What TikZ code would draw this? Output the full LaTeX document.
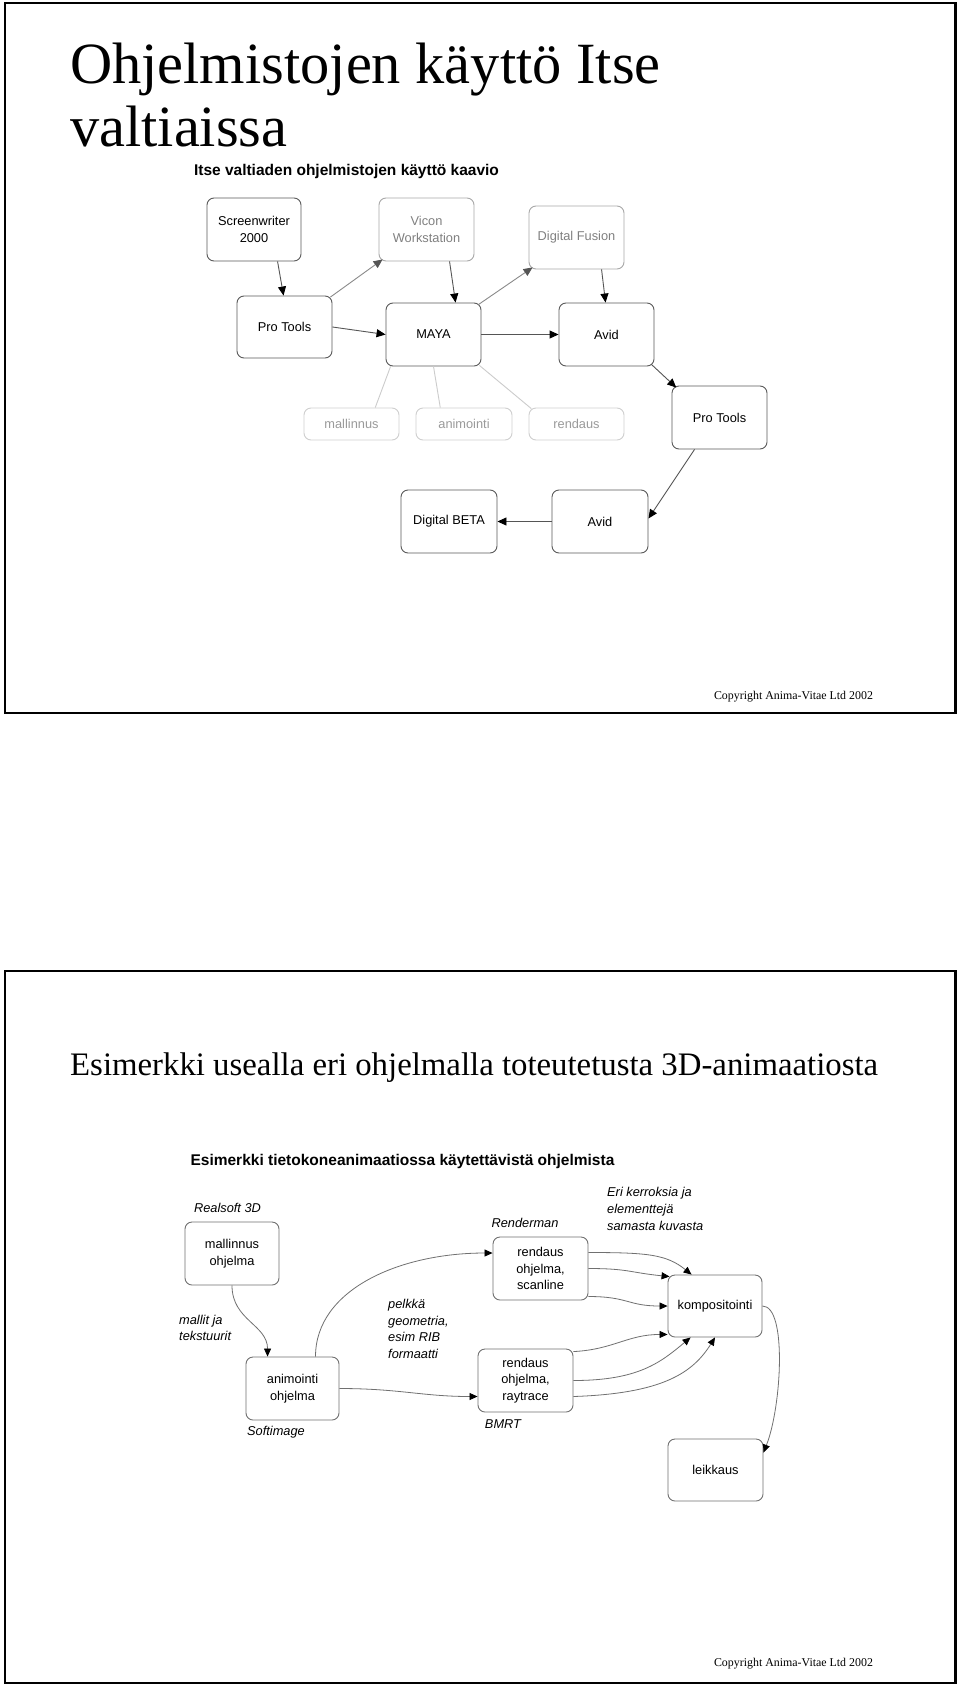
\documentclass[tikz,border=0pt]{standalone}
\usepackage{fontspec}
\setmainfont{Liberation Serif}
\newfontfamily\arial{Liberation Sans}
\usetikzlibrary{arrows.meta,calc}
\definecolor{boxdark}{HTML}{5A5A5A}
\definecolor{boxmid}{HTML}{A8A8A8}
\definecolor{boxlight}{HTML}{CFCFCF}
\definecolor{txtmid}{HTML}{808080}
\definecolor{txtlight}{HTML}{9A9A9A}
\definecolor{linedark}{HTML}{555555}
\definecolor{linemid}{HTML}{8A8A8A}
\definecolor{linelight}{HTML}{CCCCCC}
\definecolor{linetwo}{HTML}{707070}
\newcommand{\mynodefont}{\arial\fontsize{12.8}{16.7}\selectfont}
\newcommand{\mylabfont}{\arial\itshape\fontsize{12.8}{16.7}\selectfont}
\newcommand{\mybold}{\arial\bfseries\fontsize{15.5}{18}\selectfont}
\newcommand{\mycopy}{\fontsize{11.9}{14}\selectfont}
\tikzset{
  box/.style={draw=boxdark, rounded corners=7pt, minimum width=95pt, minimum height=63pt,
    inner sep=0pt, align=center, font=\mynodefont, text=black, line width=0.9pt},
  gbox/.style={box, draw=boxmid, text=txtmid},
  lbox/.style={box, draw=boxlight, text=txtlight, minimum height=32pt},
  arr/.style={draw=linedark, line width=0.9pt, -{Triangle[length=9pt,width=8pt,color=black]}},
  garr/.style={draw=linemid, line width=0.9pt, -{Triangle[length=9pt,width=8pt,color=linedark]}},
  lline/.style={draw=linelight, line width=0.9pt},
  carr/.style={draw=linetwo, line width=0.8pt, -{Triangle[length=8pt,width=7pt,color=black]}},
  lab/.style={font=\mylabfont, text=black, align=left, inner sep=0pt},
  frame/.style={draw=black, line width=2.5pt},
}
\begin{document}
\begin{tikzpicture}[x=1pt,y=-1pt]
\useasboundingbox (0,0) rectangle (960,1686);
\fill[white] (0,0) rectangle (960,1686);

% ---------- frame 1 ----------
\draw[frame] (5,3) rectangle (955.5,713);
\node[anchor=base west, inner sep=0pt, font=\fontsize{58.4}{59}\selectfont] (t1a) at (70,84) {Ohjelmistojen käyttö Itse};
\node[anchor=base west, inner sep=0pt, font=\fontsize{58.4}{59}\selectfont] (t1b) at (70,146) {valtiaissa};
\node[inner sep=0pt, font=\mybold] (s1) at (346.5,171) {Itse valtiaden ohjelmistojen käyttö kaavio};

\node[box, minimum width=94pt] (sw) at (254,229.5) {Screenwriter\\2000};
\node[gbox] (vicon) at (426.5,229.5) {Vicon\\Workstation};
\node[gbox] (fusion) at (576.5,237.5) {Digital Fusion};
\node[box, minimum height=62pt] (pt1) at (284.5,327) {Pro Tools};
\node[box] (maya) at (433.5,334.5) {MAYA};
\node[box] (avid1) at (606.5,334.5) {Avid};
\node[lbox] (mall) at (351.5,424) {mallinnus};
\node[lbox, minimum width=96pt] (anim) at (464,424) {animointi};
\node[lbox] (rend) at (576.5,424) {rendaus};
\node[box] (pt2) at (719.5,417.5) {Pro Tools};
\node[box, minimum width=96pt] (beta) at (449,521.5) {Digital BETA};
\node[box, minimum width=96pt] (avid2) at (600,521.5) {Avid};

\draw[arr] ($(sw.south west)+(71,0)$) -- ($(pt1.north west)+(47,0)$);
\draw[garr] ($(pt1.north east)+(-2,1.5)$) -- ($(vicon.south west)+(4,-2)$);
\draw[arr] ($(vicon.south west)+(71,0)$) -- ($(maya.north west)+(70,0)$);
\draw[arr] (pt1.east) -- (maya.west);
\draw[garr] ($(maya.north east)+(-3,2)$) -- ($(fusion.south west)+(4,-2)$);
\draw[arr] ($(fusion.south west)+(73,0)$) -- ($(avid1.north west)+(47,0)$);
\draw[arr] (maya.east) -- (avid1.west);
\draw[arr] ($(avid1.south east)+(-3,-2)$) -- ($(pt2.north west)+(4.7,2)$);
\draw[arr] ($(pt2.south west)+(23,0)$) -- ($(avid2.east)+(0,-3)$);
\draw[arr] (avid2.west) -- (beta.east);
\draw[lline] ($(maya.south west)+(5,0)$) -- ($(mall.north west)+(71.7,0)$);
\draw[lline] (maya.south) -- ($(anim.north west)+(24.7,0)$);
\draw[lline] ($(maya.south east)+(-2,-1)$) -- ($(rend.north west)+(2.7,1)$);

\node[anchor=center, inner sep=0pt, font=\mycopy] (c1) at (793.5,697) {Copyright Anima-Vitae Ltd 2002};

% ---------- frame 2 ----------
\draw[frame] (5,971) rectangle (955.5,1683);
\node[anchor=base west, inner sep=0pt, font=\fontsize{32.8}{33}\selectfont] (t2) at (70,1075) {Esimerkki usealla eri ohjelmalla toteutetusta 3D-animaatiosta};
\node[inner sep=0pt, font=\mybold] (s2) at (402.5,1161) {Esimerkki tietokoneanimaatiossa käytettävistä ohjelmista};

\node[box, draw=linetwo, minimum width=94pt] (mo) at (232,1253.5) {mallinnus\\ohjelma};
\node[box, draw=linetwo, minimum width=93pt] (ao) at (292.5,1388.5) {animointi\\ohjelma};
\node[box, draw=linetwo] (sc) at (540.5,1268.5) {rendaus\\ohjelma,\\scanline};
\node[box, draw=linetwo] (rt) at (525.5,1380.5) {rendaus\\ohjelma,\\raytrace};
\node[box, draw=linetwo, minimum width=94pt, minimum height=62pt] (komp) at (715,1306) {kompositointi};
\node[box, draw=linetwo, minimum height=62pt] (leik) at (715.5,1470) {leikkaus};

\node[lab] (realsoft) at (227.5,1208) {Realsoft 3D};
\node[lab] (soft) at (276,1432) {Softimage};
\node[lab] (render) at (525,1223) {Renderman};
\node[lab] (bmrt) at (503,1424) {BMRT};
\node[lab, anchor=west] (mj) at (179,1328) {mallit ja\\tekstuurit};
\node[lab, anchor=west] (pelk) at (388,1329) {pelkkä\\geometria,\\esim RIB\\formaatti};
\node[lab, anchor=west] (eri) at (607,1209) {Eri kerroksia ja\\elementtejä\\samasta kuvasta};

\draw[carr] (mo.south) .. controls +(0,35) and +(0,-32) .. ($(ao.north west)+(22,0)$);
\draw[carr] ($(ao.north)+(23,0)$) .. controls +(0,-67) and +(-93,0) .. ($(sc.west)+(0,-15.5)$);
\draw[carr] (ao.east) .. controls +(60,0) and +(-55,0) .. ($(rt.west)+(0,16)$);

\draw[carr] ($(sc.east)+(0,-16)$) .. controls +(60,0) and +(-25,-20) .. ($(komp.north west)+(24,0)$);
\draw[carr] (sc.east) .. controls +(40,0) and +(-40,-4) .. ($(komp.north west)+(2,2)$);
\draw[carr] ($(sc.east)+(0,28)$) .. controls +(40,0) and +(-40,0) .. (komp.west);

\draw[carr] ($(rt.north east)+(0,3)$) .. controls +(40,-2) and +(-40,0) .. ($(komp.south west)+(0,-3)$);
\draw[carr] (rt.east) .. controls +(65,0) and +(-30,25) .. ($(komp.south west)+(23,0)$);
\draw[carr] ($(rt.east)+(0,16)$) .. controls +(90,-3) and +(-22,35) .. (komp.south);

\draw[carr] (komp.east) .. controls +(25,0) and +(18,-45) .. ($(leik.north east)+(0,14)$);

\node[anchor=center, inner sep=0pt, font=\mycopy] (c2) at (793.5,1664) {Copyright Anima-Vitae Ltd 2002};
\end{tikzpicture}
\end{document}
